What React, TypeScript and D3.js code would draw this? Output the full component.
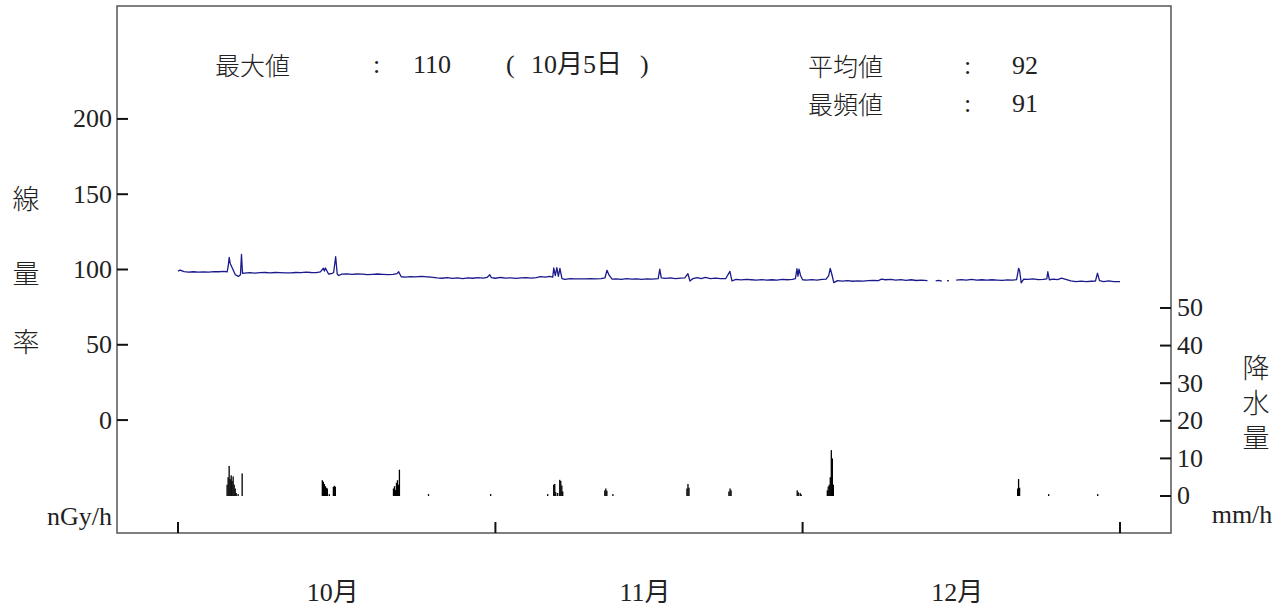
import React from "react";
import * as d3 from "d3";

// ---- data ----
const START = new Date(2023, 9, 1);
const END = new Date(2024, 0, 1);
const MONTH_LABELS = ["10月", "11月", "12月"];
const DOSE_TICKS = [0, 50, 100, 150, 200];
const RAIN_TICKS = [0, 10, 20, 30, 40, 50];
const DOSE_AXIS_LABEL = ["線", "量", "率"];
const RAIN_AXIS_LABEL = "降水量";
const DOSE_UNIT = "nGy/h";
const RAIN_UNIT = "mm/h";
const STAT_MAX = { label: "最大値", value: "110", date: "10月5日" };
const STAT_MEAN = { label: "平均値", value: "92" };
const STAT_MODE = { label: "最頻値", value: "91" };

// [day offset from Oct 1, nGy/h] (null = missing)
const DOSE: [number, number | null][] = [
  [0.0, 98.8], [0.2, 99.6], [0.6, 98.6], [1.0, 98.3], [1.5, 98.5], [2.0, 98.2], [2.5, 98.4], [3.0, 98.3],
  [3.5, 98.6], [4.0, 98.5], [4.5, 98.8], [4.8, 98.4], [4.9, 102], [5.0, 108], [5.1, 104], [5.3, 101],
  [5.6, 96.5], [5.9, 95.4], [6.1, 96.5], [6.2, 110], [6.3, 97.5], [6.5, 97.6], [7.0, 97.9], [7.5, 97.6],
  [8.0, 97.9], [8.5, 98.0], [9.0, 97.7], [9.5, 98.0], [10.0, 97.9], [10.5, 97.7], [11.0, 97.8], [11.5, 98.0],
  [12.0, 97.9], [12.5, 98.2], [13.0, 98.0], [13.5, 97.9], [13.9, 98.4], [14.2, 100.8], [14.3, 99], [14.4, 101],
  [14.7, 97], [15.0, 97.2], [15.2, 98], [15.4, 108.5], [15.55, 97], [15.7, 96.0], [16.0, 96.9], [16.5, 97.1],
  [17.0, 96.8], [17.5, 97.0], [18.0, 96.9], [18.5, 96.6], [19.0, 96.8], [19.5, 97.0], [20.0, 96.8], [20.5, 96.6],
  [21.0, 96.7], [21.4, 97.2], [21.55, 98.5], [21.8, 95.2], [22.2, 95.0], [22.7, 95.3], [23.2, 95.1], [23.7, 95.5],
  [24.2, 95.2], [24.7, 95.0], [25.3, 94.5], [25.8, 94.2], [26.3, 94.6], [26.8, 94.1], [27.3, 94.5], [27.8, 94.0],
  [28.3, 94.4], [28.8, 94.2], [29.3, 94.6], [29.8, 94.3], [30.2, 94.8], [30.45, 96.5], [30.6, 94.6], [31.0, 94.2],
  [31.5, 94.7], [32.0, 94.3], [32.5, 94.5], [33.0, 94.1], [33.5, 94.4], [34.0, 94.6], [34.5, 94.3], [35.0, 94.6],
  [35.4, 95.3], [35.9, 94.9], [36.3, 95.4], [36.6, 95], [36.7, 101], [36.85, 96], [37.0, 101.2], [37.15, 95.5],
  [37.3, 100.8], [37.5, 94], [37.8, 93.5], [38.3, 94.0], [38.8, 93.8], [39.3, 93.8], [39.8, 93.8], [40.3, 93.9],
  [40.8, 93.8], [41.3, 93.9], [41.7, 94.5], [41.9, 99.5], [42.1, 96.2], [42.4, 93.6], [42.8, 93.8], [43.3, 93.5],
  [43.8, 93.9], [44.3, 93.6], [44.8, 93.8], [45.3, 93.5], [45.8, 93.8], [46.3, 93.6], [46.9, 94], [47.05, 100.2],
  [47.2, 94.5], [47.6, 94.1], [48.1, 94.4], [48.6, 94.0], [49.1, 94.3], [49.5, 94.4], [49.8, 97.2], [50.0, 92.3],
  [50.3, 94.0], [50.7, 94.6], [51.1, 94.0], [51.5, 94.7], [52.0, 94.0], [52.5, 94.3], [53.0, 93.9], [53.5, 94.0],
  [53.9, 98.8], [54.1, 92.4], [54.5, 93.4], [55.0, 93.1], [55.5, 93.4], [56.0, 93.2], [56.5, 92.9], [57.0, 93.3],
  [57.5, 93.0], [58.0, 93.2], [58.5, 92.9], [59.0, 93.4], [59.5, 93.2], [60.0, 93.4], [60.3, 94], [60.45, 100.5],
  [60.55, 95.5], [60.65, 100.3], [60.8, 96], [61.0, 93.2], [61.4, 93.0], [61.9, 93.3], [62.4, 93.0], [62.9, 93.4],
  [63.3, 93.6], [63.55, 96], [63.7, 100.7], [63.85, 97], [64.05, 91.3], [64.4, 92.6], [64.9, 92.3], [65.4, 92.6],
  [65.9, 92.2], [66.4, 92.5], [66.9, 92.3], [67.4, 92.6], [67.9, 92.8], [68.4, 92.6], [68.7, 93.6], [69.1, 93.2],
  [69.6, 93.5], [70.1, 93.0], [70.6, 93.3], [71.1, 92.8], [71.6, 93.2], [72.1, 92.7], [72.6, 93.0], [73.2, 92.6],
  [73.6, null], [74.0, 92.4], [74.3, 92.8], [74.6, 92.3], [74.9, null], [75.1, 92.6], [75.3, 92.4], [75.6, null],
  [76.0, 93.0], [76.5, 93.3], [77.0, 93.0], [77.5, 93.4], [78.0, 93.0], [78.5, 93.2], [79.0, 92.9], [79.5, 93.2],
  [80.0, 93.0], [80.5, 92.8], [81.0, 93.1], [81.5, 92.9], [81.9, 93.3], [82.0, 97], [82.1, 100.8], [82.2, 99],
  [82.35, 91.2], [82.6, 93.6], [83.0, 93.4], [83.5, 93.8], [84.0, 93.3], [84.5, 93.4], [84.85, 93.8], [84.95, 98.5],
  [85.1, 93.2], [85.5, 93.6], [85.9, 93.3], [86.3, 94.2], [86.7, 93.4], [87.2, 92.4], [87.7, 92.0], [88.2, 92.3],
  [88.7, 92.0], [89.2, 92.2], [89.6, 92.3], [89.8, 97.5], [90.0, 92.6], [90.4, 92.0], [90.9, 92.4], [91.4, 91.9],
  [92.0, 92.0],
];

// [day offset from Oct 1, mm/h]
const RAIN: [number, number][] = [
  [4.79, 3], [4.89, 5], [4.99, 8], [5.09, 4.5], [5.19, 5.5], [5.28, 4], [5.38, 5.2], [5.48, 3], [5.58, 2],
  [5.68, 0.8], [5.87, 0.5], [6.26, 6],
  [14.09, 4.2], [14.19, 3.8], [14.29, 3.2], [14.39, 2.6], [14.48, 2.2], [14.58, 2.0], [14.77, 0.5],
  [15.17, 2.4], [15.26, 2.7], [15.36, 2.5],
  [21.04, 2.0], [21.14, 2.6], [21.23, 1.6], [21.33, 3.5], [21.43, 4.2], [21.53, 3.0], [21.62, 7.0],
  [24.46, 0.5], [30.53, 0.5],
  [36.1, 0.5], [36.69, 3.0], [36.79, 3.2], [36.89, 1.0], [37.08, 0.8], [37.28, 4.3], [37.38, 4.0], [37.48, 2.8], [37.57, 1.2],
  [41.68, 1.5], [41.78, 2.0], [41.88, 1.4], [42.47, 0.5],
  [49.7, 2.0], [49.8, 3.2], [49.9, 2.2],
  [53.8, 1.2], [53.91, 2.0], [54.01, 1.5],
  [60.47, 1.5], [60.57, 1.0], [60.76, 0.8],
  [60.86, 0.4], [63.41, 1.5], [63.5, 2.5], [63.6, 3.0], [63.7, 5.0], [63.8, 12.2], [63.9, 10.0], [64.0, 3.0],
  [82.0, 2.0], [82.09, 4.5], [82.19, 2.2],
  [85.03, 0.5], [89.82, 0.5],
];

const W = 1287;
const H = 610;
const FRAME = { left: 117, right: 1171, top: 6, bottom: 533 };
const SERIF = "'Liberation Serif', 'DejaVu Serif', 'Noto Sans CJK JP', serif";
const CJK = "'Noto Sans CJK JP', sans-serif";

const dayToDate = (d: number) => new Date(START.getTime() + d * 864e5);

export default function App() {
  const x = d3.scaleTime().domain([START, END]).range([178, 1120]);
  const yDose = d3.scaleLinear().domain([-75, 275]).range([FRAME.bottom, FRAME.top]);
  const yRain = d3.scaleLinear().domain([-9.84, 130.3]).range([FRAME.bottom, FRAME.top]);

  const line = d3
    .line<[number, number | null]>()
    .defined((d) => d[1] !== null)
    .x((d) => x(dayToDate(d[0])))
    .y((d) => yDose(d[1] as number));

  const monthStarts = d3.timeMonth.range(START, d3.timeDay.offset(END, 1));
  const monthMids = MONTH_LABELS.map((_, i) => {
    const a = d3.timeMonth.offset(START, i);
    const b = d3.timeMonth.offset(START, i + 1);
    return new Date((a.getTime() + b.getTime()) / 2);
  });

  const numStyle = { fontFamily: SERIF, fontSize: 26, fill: "#222" } as const;
  const cjkStyle = { fontFamily: CJK, fontSize: 25, fill: "#222", fontWeight: 300 } as const;

  return (
    <svg width={W} height={H} style={{ position: "absolute", left: 0, top: 0, background: "#fff" }}>
      <rect x={0} y={0} width={W} height={H} fill="#fff" />
      {/* frame */}
      <rect
        x={FRAME.left}
        y={FRAME.top}
        width={FRAME.right - FRAME.left}
        height={FRAME.bottom - FRAME.top}
        fill="none"
        stroke="#555"
        strokeWidth={1.5}
      />

      {/* left axis */}
      {DOSE_TICKS.map((t) => (
        <g key={"l" + t}>
          <line x1={FRAME.left} x2={FRAME.left + 11} y1={yDose(t)} y2={yDose(t)} stroke="#111" strokeWidth={2} />
          <text x={112} y={yDose(t)} textAnchor="end" dominantBaseline="central" style={numStyle}>
            {t}
          </text>
        </g>
      ))}
      <text x={112} y={516} textAnchor="end" dominantBaseline="central" style={numStyle}>
        {DOSE_UNIT}
      </text>
      {DOSE_AXIS_LABEL.map((c, i) => (
        <text key={c + i} x={26} y={[197, 272, 340][i]} textAnchor="middle" dominantBaseline="central" style={{ ...cjkStyle, fontSize: 27 }}>
          {c}
        </text>
      ))}

      {/* right axis */}
      {RAIN_TICKS.map((t) => (
        <g key={"r" + t}>
          <line x1={FRAME.right - 11} x2={FRAME.right} y1={yRain(t)} y2={yRain(t)} stroke="#111" strokeWidth={2} />
          <text x={1177} y={yRain(t)} textAnchor="start" dominantBaseline="central" style={numStyle}>
            {t}
          </text>
        </g>
      ))}
      <text
        x={1256}
        y={354}
        style={{ ...cjkStyle, fontSize: 27, writingMode: "vertical-rl", letterSpacing: "8px" } as any}
      >
        {RAIN_AXIS_LABEL}
      </text>
      <text x={1242} y={514} textAnchor="middle" dominantBaseline="central" style={numStyle}>
        {RAIN_UNIT}
      </text>

      {/* bottom axis */}
      {monthStarts.map((m, i) => (
        <line key={"t" + i} x1={x(m)} x2={x(m)} y1={FRAME.bottom} y2={FRAME.bottom - 11} stroke="#111" strokeWidth={2} />
      ))}
      {MONTH_LABELS.map((lab, i) => (
        <text key={lab} x={x(monthMids[i]) - 4} y={592} textAnchor="middle" dominantBaseline="central" style={numStyle}>
          {lab}
        </text>
      ))}

      {/* stats */}
      <text x={215} y={64} dominantBaseline="central" style={cjkStyle}>{STAT_MAX.label}</text>
      <text x={373} y={64} dominantBaseline="central" style={numStyle}>:</text>
      <text x={413} y={64} dominantBaseline="central" style={numStyle}>{STAT_MAX.value}</text>
      <text x={506} y={64} dominantBaseline="central" style={numStyle}>(</text>
      <text x={531} y={64} dominantBaseline="central" style={numStyle}>{STAT_MAX.date}</text>
      <text x={640} y={64} dominantBaseline="central" style={numStyle}>)</text>

      <text x={808} y={65} dominantBaseline="central" style={cjkStyle}>{STAT_MEAN.label}</text>
      <text x={964} y={65} dominantBaseline="central" style={numStyle}>:</text>
      <text x={1012} y={65} dominantBaseline="central" style={numStyle}>{STAT_MEAN.value}</text>
      <text x={808} y={103} dominantBaseline="central" style={cjkStyle}>{STAT_MODE.label}</text>
      <text x={964} y={103} dominantBaseline="central" style={numStyle}>:</text>
      <text x={1012} y={103} dominantBaseline="central" style={numStyle}>{STAT_MODE.value}</text>

      {/* rain bars */}
      {RAIN.map(([d, v], i) => {
        const cx = x(dayToDate(d));
        return (
          <rect key={"b" + i} x={cx - 0.6} width={1.3} y={yRain(v)} height={yRain(0) - yRain(v)} fill="#000" />
        );
      })}

      {/* dose line */}
      <path d={line(DOSE) || ""} fill="none" stroke="#1a1a8c" strokeWidth={1.3} strokeLinejoin="round" />
    </svg>
  );
}
